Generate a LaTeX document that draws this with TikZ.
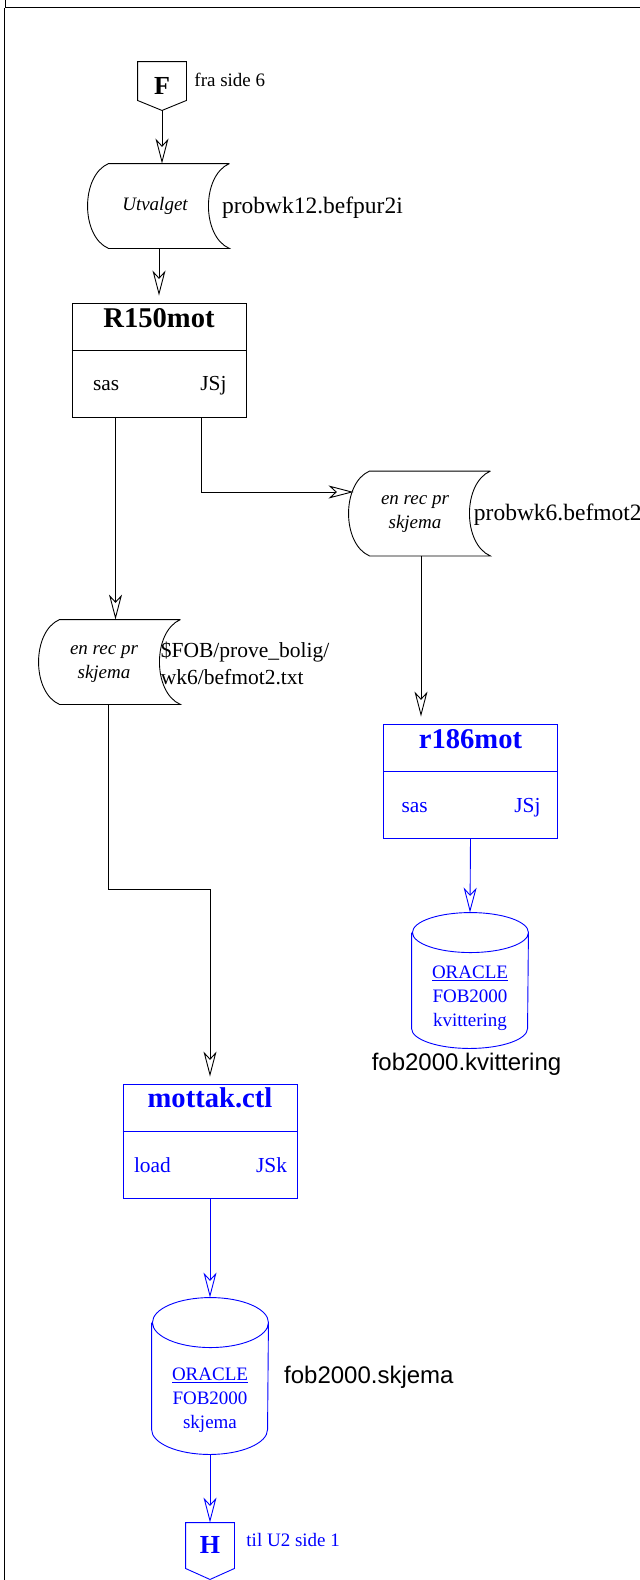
\documentclass[tikz,border=0pt]{standalone}
\usepackage{fontspec}
\setmainfont{Liberation Serif}
\newfontfamily\arialfont{Liberation Sans}
\usetikzlibrary{arrows.meta,positioning}
\definecolor{jobblaa}{RGB}{0,0,255}
\tikzset{
  boks/.style={draw, minimum width=174pt, minimum height=114pt, inner sep=0pt},
  lager/.style={minimum width=120pt, minimum height=84pt, inner sep=0pt},
  sylinder/.style={minimum width=116pt, inner sep=0pt},
  kobling/.style={minimum width=48pt, inner sep=0pt},
  bokstav/.style={inner sep=0pt, font=\fontsize{26}{26}\selectfont\bfseries},
  tittel/.style={anchor=base, inner sep=0pt, font=\fontsize{28.6}{30}\selectfont\bfseries},
  liten/.style={inner sep=0pt, font=\fontsize{21.4}{26}\selectfont},
  kursiv/.style={inner sep=0pt, align=center, font=\fontsize{19}{24}\selectfont\itshape},
  fil/.style={inner sep=0pt, anchor=base west, font=\fontsize{23.5}{28}\selectfont},
  merk/.style={inner sep=0pt, anchor=base west, font=\fontsize{19}{24}\selectfont},
  db/.style={inner sep=0pt, align=center, font=\fontsize{19}{24}\selectfont},
}
% lagrede data: buet venstre side, hul hoyre side
\newcommand{\lagretdata}[1]{%
  \draw (#1.north east) -- (#1.north west)
    .. controls +(-28pt,-12pt) and +(-28pt,12pt) .. (#1.south west)
    -- (#1.south east)
    .. controls +(-28pt,12pt) and +(-28pt,-12pt) .. (#1.north east);}
% database
\newcommand{\database}[2]{%
  \draw[jobblaa] ([yshift=-#2]#1.north west) -- ([yshift=#2]#1.south west)
    arc[start angle=180, end angle=360, x radius=58pt, y radius=#2]
    -- ([yshift=-#2]#1.north east)
    arc[start angle=0, end angle=360, x radius=58pt, y radius=#2];}
% sidekobling
\newcommand{\sidekobling}[3][black]{%
  \draw[#1] (#2.north west) -- (#2.north east) -- ([yshift=#3]#2.south east)
    -- (#2.south) -- ([yshift=#3]#2.south west) -- cycle;}
\newcommand{\deler}[2][black]{%
  \draw[#1] ([yshift=-48pt]#2.north west) -- ([yshift=-48pt]#2.north east);}
\begin{document}
\begin{tikzpicture}[x=1pt, y=1pt, line width=0.9pt,
    >={Stealth[open, length=25pt, width=13pt, inset=7pt]}]
  \useasboundingbox (0,0) rectangle (640,-1580);
  % ramme
  \draw (5,0) -- (5,-7) -- (640,-7);
  \draw (4,-8) -- (4,-1580);

  \node[kobling, minimum height=48pt] (f) at (162,-86) {};
  \sidekobling{f}{10pt}
  \node[bokstav] (fnavn) at (f.center) {F};
  \node[merk] (fra) at (194,-86.7) {fra side 6};

  \node[lager] (utv) at (169,-206) {};
  \lagretdata{utv}
  \node[kursiv] (utvnavn) at ([xshift=-14pt]utv.center) {Utvalget};
  \node[fil] (utvfil) at (221.6,-213) {probwk12.befpur2i};

  \node[boks] (r150) at (159,-360) {};
  \deler{r150}
  \node[tittel] (r150navn) at ([yshift=-25pt]r150.north) {R150mot};
  \node[liten, anchor=base west] (r150sas) at ([xshift=21pt,yshift=27pt]r150.south west) {sas};
  \node[liten, anchor=base east] (r150jsj) at ([xshift=-19.5pt,yshift=27pt]r150.south east) {JSj};

  \node[lager] (lager2) at (430,-513.5) {};
  \lagretdata{lager2}
  \node[kursiv] (lager2navn) at ([xshift=-15pt,yshift=-1pt]lager2.center) {en rec pr\\skjema};
  \node[fil] (lager2fil) at (473.5,-520) {probwk6.befmot2};

  \node[lager] (lager3) at (120,-662) {};
  \lagretdata{lager3}
  \node[kursiv] (lager3navn) at ([xshift=-16pt,yshift=-2pt]lager3.center) {en rec pr\\skjema};
  \node[inner sep=0pt, anchor=west, align=left, font=\fontsize{21.5}{27}\selectfont]
    (lager3fil) at (160.4,-663) {\$FOB/prove\_bolig/\\wk6/befmot2.txt};

  \node[boks, jobblaa] (r186) at (470.5,-781) {};
  \deler[jobblaa]{r186}
  \node[tittel, jobblaa] (r186navn) at ([yshift=-25pt]r186.north) {r186mot};
  \node[liten, jobblaa, anchor=base west] (r186sas) at ([xshift=18pt,yshift=26pt]r186.south west) {sas};
  \node[liten, jobblaa, anchor=base east] (r186jsj) at ([xshift=-17pt,yshift=26pt]r186.south east) {JSj};

  \node[sylinder, minimum height=135pt] (kvit) at (470,-980.5) {};
  \database{kvit}{20pt}
  \node[db, jobblaa] (kvitnavn) at ([yshift=-18pt]kvit.center) {\underline{ORACLE}\\FOB2000\\kvittering};
  \node[inner sep=0pt, anchor=base, font=\fontsize{24}{28}\arialfont] (kvitfil) at (466.5,-1070) {fob2000.kvittering};

  \node[boks, jobblaa] (mottak) at (210,-1141) {};
  \deler[jobblaa]{mottak}
  \node[tittel, jobblaa] (mottaknavn) at ([yshift=-24pt]mottak.north) {mottak.ctl};
  \node[liten, jobblaa, anchor=base west] (mottakload) at ([xshift=11pt,yshift=26pt]mottak.south west) {load};
  \node[liten, jobblaa, anchor=base east] (mottakjsk) at ([xshift=-10pt,yshift=26pt]mottak.south east) {JSk};

  \node[sylinder, minimum height=156pt] (skjema) at (210,-1376) {};
  \database{skjema}{25pt}
  \node[db, jobblaa] (skjemanavn) at ([yshift=-24.5pt]skjema.center) {\underline{ORACLE}\\FOB2000\\skjema};
  \node[inner sep=0pt, anchor=base west, font=\fontsize{24}{28}\arialfont] (skjemafil) at (283.7,-1383) {fob2000.skjema};

  \node[kobling, minimum height=56pt] (h) at (210,-1551) {};
  \sidekobling[jobblaa]{h}{11pt}
  \node[bokstav, jobblaa] (hnavn) at ([yshift=6pt]h.center) {H};
  \node[merk, jobblaa] (til) at (246,-1546) {til U2 side 1};

  \draw[->] (f.south) -- (f.south |- utv.north);
  \draw[->, shorten >=7pt] (utv.south -| r150.north) -- (r150.north);
  \draw[->] ([xshift=-43.5pt]r150.south) -- ([xshift=-43.5pt]r150.south |- lager3.north);
  \draw[->] ([xshift=42pt]r150.south) |- ([xshift=-16pt,yshift=21.5pt]lager2.west);
  \draw[->, shorten >=7pt] ([xshift=-9pt]lager2.south) -- ([xshift=-9pt]lager2.south |- r186.north);
  \draw[jobblaa, ->] (r186.south) -- (kvit.north);
  \draw[->, shorten >=7pt] ([xshift=-12pt]lager3.south) -- ++(0,-185) -| (mottak.north);
  \draw[jobblaa, ->] (mottak.south) -- (skjema.north);
  \draw[jobblaa, ->] (skjema.south) -- (h.north);
\end{tikzpicture}
\end{document}
